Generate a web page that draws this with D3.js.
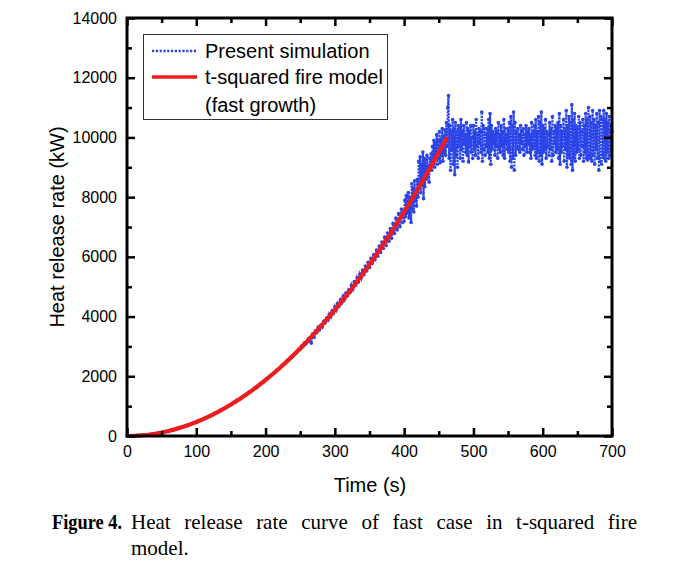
<!DOCTYPE html>
<html>
<head>
<meta charset="utf-8">
<script src="https://cdn.jsdelivr.net/npm/d3@7/dist/d3.min.js"></script>
<style>
  html, body { margin: 0; padding: 0; background: #fff; }
  svg { display: block; }
</style>
</head>
<body>
<svg id="chart" width="684" height="570"></svg>
<script>
// ---------------- DATA ----------------
const xTickLabels = [0, 100, 200, 300, 400, 500, 600, 700];
const yTickLabels = [0, 2000, 4000, 6000, 8000, 10000, 12000, 14000];

// t-squared fire model (fast growth), read every 10 s (last point at 462 s)
const redTime = [0,10,20,30,40,50,60,70,80,90,100,110,120,130,140,150,160,170,180,190,200,210,220,230,240,250,260,270,280,290,300,310,320,330,340,350,360,370,380,390,400,410,420,430,440,450,460,462];
const redValues = [0,5,19,42,75,117,169,230,300,380,469,567,675,793,919,1055,1201,1355,1520,1693,1876,2068,2270,2481,2701,2931,3171,3419,3677,3944,4221,4507,4803,5107,5422,5745,6078,6421,6772,7134,7504,7884,8273,8672,9080,9497,9924,10011];

// Present simulation, 0–248 s every 4 s
const blueEarly = [0,0,12,5,20,14,35,30,52,55,82,86,115,120,152,160,198,210,250,262,305,322,370,390,440,455,515,540,595,625,680,712,775,810,875,912,980,1020,1090,1130,1210,1250,1335,1380,1460,1510,1600,1650,1740,1790,1885,1945,2040,2095,2200,2260,2365,2425,2540,2600,2715,2780,2900];
// Present simulation, 250–398 s every 2 s
const blueMid = [2900,3010,2990,3120,3080,3150,3260,3180,3110,3420,3300,3520,3460,3640,3560,3720,3650,3840,3790,3950,3880,4080,3990,4190,4110,4330,4220,4440,4350,4560,4460,4680,4570,4800,4690,4900,4810,5050,4920,5170,5050,5290,5150,5420,5290,5560,5400,5690,5530,5820,5640,5950,5780,6080,5900,6230,6020,6360,6150,6500,6280,6660,6380,6800,6520,6950,6620,7120,6780,7300,6900,7450,7010,7600,7150];
// Present simulation, 400–700 s every 1 s
const blueLate = [
  7200,7900,7350,8050,7450,7700,8150,7300,8000,7600,
  7150,8450,7600,8300,7500,8550,7900,8100,7700,8600,
  8000,9200,8300,9350,8150,9100,8400,9510,7950,9300,
  8350,9250,8600,9400,8700,9050,8500,9300,8900,9450,
  8900,9700,9200,9900,9000,9800,9300,10100,9100,9900,
  9300,10200,9150,9950,9400,10300,9200,10050,9500,10250,
  9400,10500,9700,11000,11400,9300,10400,8900,10200,9600,
  10600,9100,10300,8750,10500,9400,10200,9000,10400,9700,
  10300,9300,10600,9600,10200,9200,10400,9800,10100,9500,
  10500,9400,10300,9180,10200,9700,10400,9500,10000,9300,
  10400,9600,10200,9400,10600,9700,10100,9300,10300,9800,
  10200,9500,10850,9200,10400,9600,10300,9400,10100,9700,
  10300,9500,10600,9300,10800,9100,10400,9600,10200,9800,
  10100,9400,10300,9700,10200,9300,10500,9600,10100,9500,
  10400,9700,10200,9400,10600,9300,10300,9800,10100,9600,
  10300,9500,10500,9200,10700,9000,10400,9300,10850,8900,
  10500,9400,10200,9700,10300,9600,10100,9500,10400,9800,
  10200,9600,10300,9400,10100,9700,10400,9500,10200,9800,
  10300,9500,10100,9300,10500,9600,10200,9700,10400,9400,
  10600,9300,10200,9500,10700,9200,10500,9400,10850,9100,
  10400,9500,10300,9600,10600,9300,10200,9700,10100,9400,
  10500,9600,10300,9200,10700,9400,10200,9800,10400,9500,
  10300,9600,10500,9300,10800,9100,10400,9500,10200,9700,
  10600,9200,10300,9600,10900,9000,10400,9400,10700,9300,
  10500,9100,11100,8900,10600,9300,10800,9200,10400,9500,
  10300,9600,10700,9300,10500,9400,10200,9700,10600,9200,
  10400,9500,10800,9300,10600,9240,11000,9400,10700,9300,
  10500,9200,10900,9400,10600,9100,10400,9600,10800,9300,
  10500,8900,10900,9200,10700,9100,10600,9400,10900,9300,
  10600,9200,10800,9500,10500,9300,10700,9400,10400,9600,
  10200
];

const legendLabels = ["Present simulation", "t-squared fire model", "(fast growth)"];
const xTitle = "Time (s)";
const yTitle = "Heat release rate (kW)";
const captionBold = "Figure 4.";
const captionLine1 = "Heat release rate curve of fast case in t-squared fire";
const captionLine2 = "model.";

// ---------------- BUILD SERIES ----------------
const blueData = [];
blueEarly.forEach((v, i) => blueData.push([i * 4, v]));
blueMid.forEach((v, i) => blueData.push([250 + i * 2, v]));
blueLate.forEach((v, i) => blueData.push([400 + i, v]));
const redData = redTime.map((t, i) => [t, redValues[i]]);

// ---------------- CHART ----------------
const svg = d3.select("#chart");
const L = 127, R = 612, T = 18, B = 436;
const x = d3.scaleLinear().domain([0, 700]).range([L, R]);
const y = d3.scaleLinear().domain([0, 14000]).range([B, T]);

const BLUE = "#2a44e8", RED = "#ee1c1c";
const axisFont = "'Liberation Sans', Arial, sans-serif";

// data
const plot = svg.append("g");
const line = d3.line().x(d => x(d[0])).y(d => y(d[1]));

plot.append("path").datum(blueData)
  .attr("d", line).attr("fill", "none")
  .attr("stroke", BLUE).attr("stroke-width", 2.2)
  .attr("stroke-dasharray", "2,1.2");
plot.selectAll("circle.b").data(blueData).enter().append("circle")
  .attr("class", "b")
  .attr("cx", d => x(d[0])).attr("cy", d => y(d[1]))
  .attr("r", 1.8).attr("fill", BLUE);

plot.append("path").datum(redData)
  .attr("d", line).attr("fill", "none")
  .attr("stroke", RED).attr("stroke-width", 4.2)
  .attr("stroke-linejoin", "round");

// axes
const xMinor = d3.range(50, 700, 100);
const yMinor = d3.range(1000, 14000, 2000);

function styleAxis(g) {
  g.select(".domain").remove();
  g.selectAll(".tick line").attr("stroke", "#000").attr("stroke-width", 2.5);
  g.selectAll(".tick text").attr("font-family", axisFont).attr("font-size", 16).attr("fill", "#000");
}

svg.append("g").attr("transform", `translate(0,${B})`)
  .call(d3.axisBottom(x).tickValues(xTickLabels).tickSizeInner(-8).tickSizeOuter(0).tickPadding(10).tickFormat(d3.format("d")))
  .call(styleAxis);
svg.append("g").attr("transform", `translate(0,${B})`)
  .call(d3.axisBottom(x).tickValues(xMinor).tickSizeInner(-5).tickSizeOuter(0).tickFormat(""))
  .call(styleAxis);
svg.append("g").attr("transform", `translate(0,${T})`)
  .call(d3.axisTop(x).tickValues(xTickLabels).tickSizeInner(-8).tickSizeOuter(0).tickFormat(""))
  .call(styleAxis);
svg.append("g").attr("transform", `translate(0,${T})`)
  .call(d3.axisTop(x).tickValues(xMinor).tickSizeInner(-5).tickSizeOuter(0).tickFormat(""))
  .call(styleAxis);

svg.append("g").attr("transform", `translate(${L},0)`)
  .call(d3.axisLeft(y).tickValues(yTickLabels).tickSizeInner(-8).tickSizeOuter(0).tickPadding(10).tickFormat(d3.format("d")))
  .call(styleAxis);
svg.append("g").attr("transform", `translate(${L},0)`)
  .call(d3.axisLeft(y).tickValues(yMinor).tickSizeInner(-5).tickSizeOuter(0).tickFormat(""))
  .call(styleAxis);
svg.append("g").attr("transform", `translate(${R},0)`)
  .call(d3.axisRight(y).tickValues(yTickLabels).tickSizeInner(-8).tickSizeOuter(0).tickFormat(""))
  .call(styleAxis);
svg.append("g").attr("transform", `translate(${R},0)`)
  .call(d3.axisRight(y).tickValues(yMinor).tickSizeInner(-5).tickSizeOuter(0).tickFormat(""))
  .call(styleAxis);

// frame
svg.append("rect").attr("x", L).attr("y", T).attr("width", R - L).attr("height", B - T)
  .attr("fill", "none").attr("stroke", "#000").attr("stroke-width", 3);

// axis titles
svg.append("text").attr("x", (L + R) / 2 + 0.5).attr("y", 492)
  .attr("text-anchor", "middle").attr("font-family", axisFont).attr("font-size", 20)
  .text(xTitle);
svg.append("text").attr("transform", `translate(64,${(T + B) / 2}) rotate(-90)`)
  .attr("text-anchor", "middle").attr("font-family", axisFont).attr("font-size", 20)
  .text(yTitle);

// legend
const lg = svg.append("g");
lg.append("rect").attr("x", 143.5).attr("y", 34.5).attr("width", 244).attr("height", 85)
  .attr("fill", "#fff").attr("stroke", "#333").attr("stroke-width", 1);
lg.append("line").attr("x1", 152).attr("x2", 197).attr("y1", 51).attr("y2", 51)
  .attr("stroke", BLUE).attr("stroke-width", 2.4).attr("stroke-dasharray", "2.2,1.6");
lg.append("line").attr("x1", 152).attr("x2", 197).attr("y1", 77).attr("y2", 77)
  .attr("stroke", RED).attr("stroke-width", 3.5);
[57.5, 83.5, 111.5].forEach((yy, i) => {
  lg.append("text").attr("x", 205).attr("y", yy)
    .attr("font-family", axisFont).attr("font-size", 20).attr("fill", "#000")
    .text(legendLabels[i]);
});

// caption
const serif = "'Liberation Serif', 'Times New Roman', serif";
svg.append("text").attr("x", 52).attr("y", 529)
  .attr("font-family", serif).attr("font-size", 21).attr("font-weight", "bold")
  .attr("textLength", 70).attr("lengthAdjust", "spacingAndGlyphs")
  .text(captionBold);
const words = captionLine1.split(" ");
const capStart = 131, capEnd = 637;
const wNodes = words.map(w => svg.append("text").attr("y", 529)
  .attr("font-family", serif).attr("font-size", 21).text(w));
const widths = wNodes.map(n => n.node().getComputedTextLength());
const gap = (capEnd - capStart - d3.sum(widths)) / (words.length - 1);
let cx = capStart;
wNodes.forEach((n, i) => { n.attr("x", cx); cx += widths[i] + gap; });
svg.append("text").attr("x", capStart).attr("y", 555)
  .attr("font-family", serif).attr("font-size", 21).text(captionLine2);
</script>
</body>
</html>
